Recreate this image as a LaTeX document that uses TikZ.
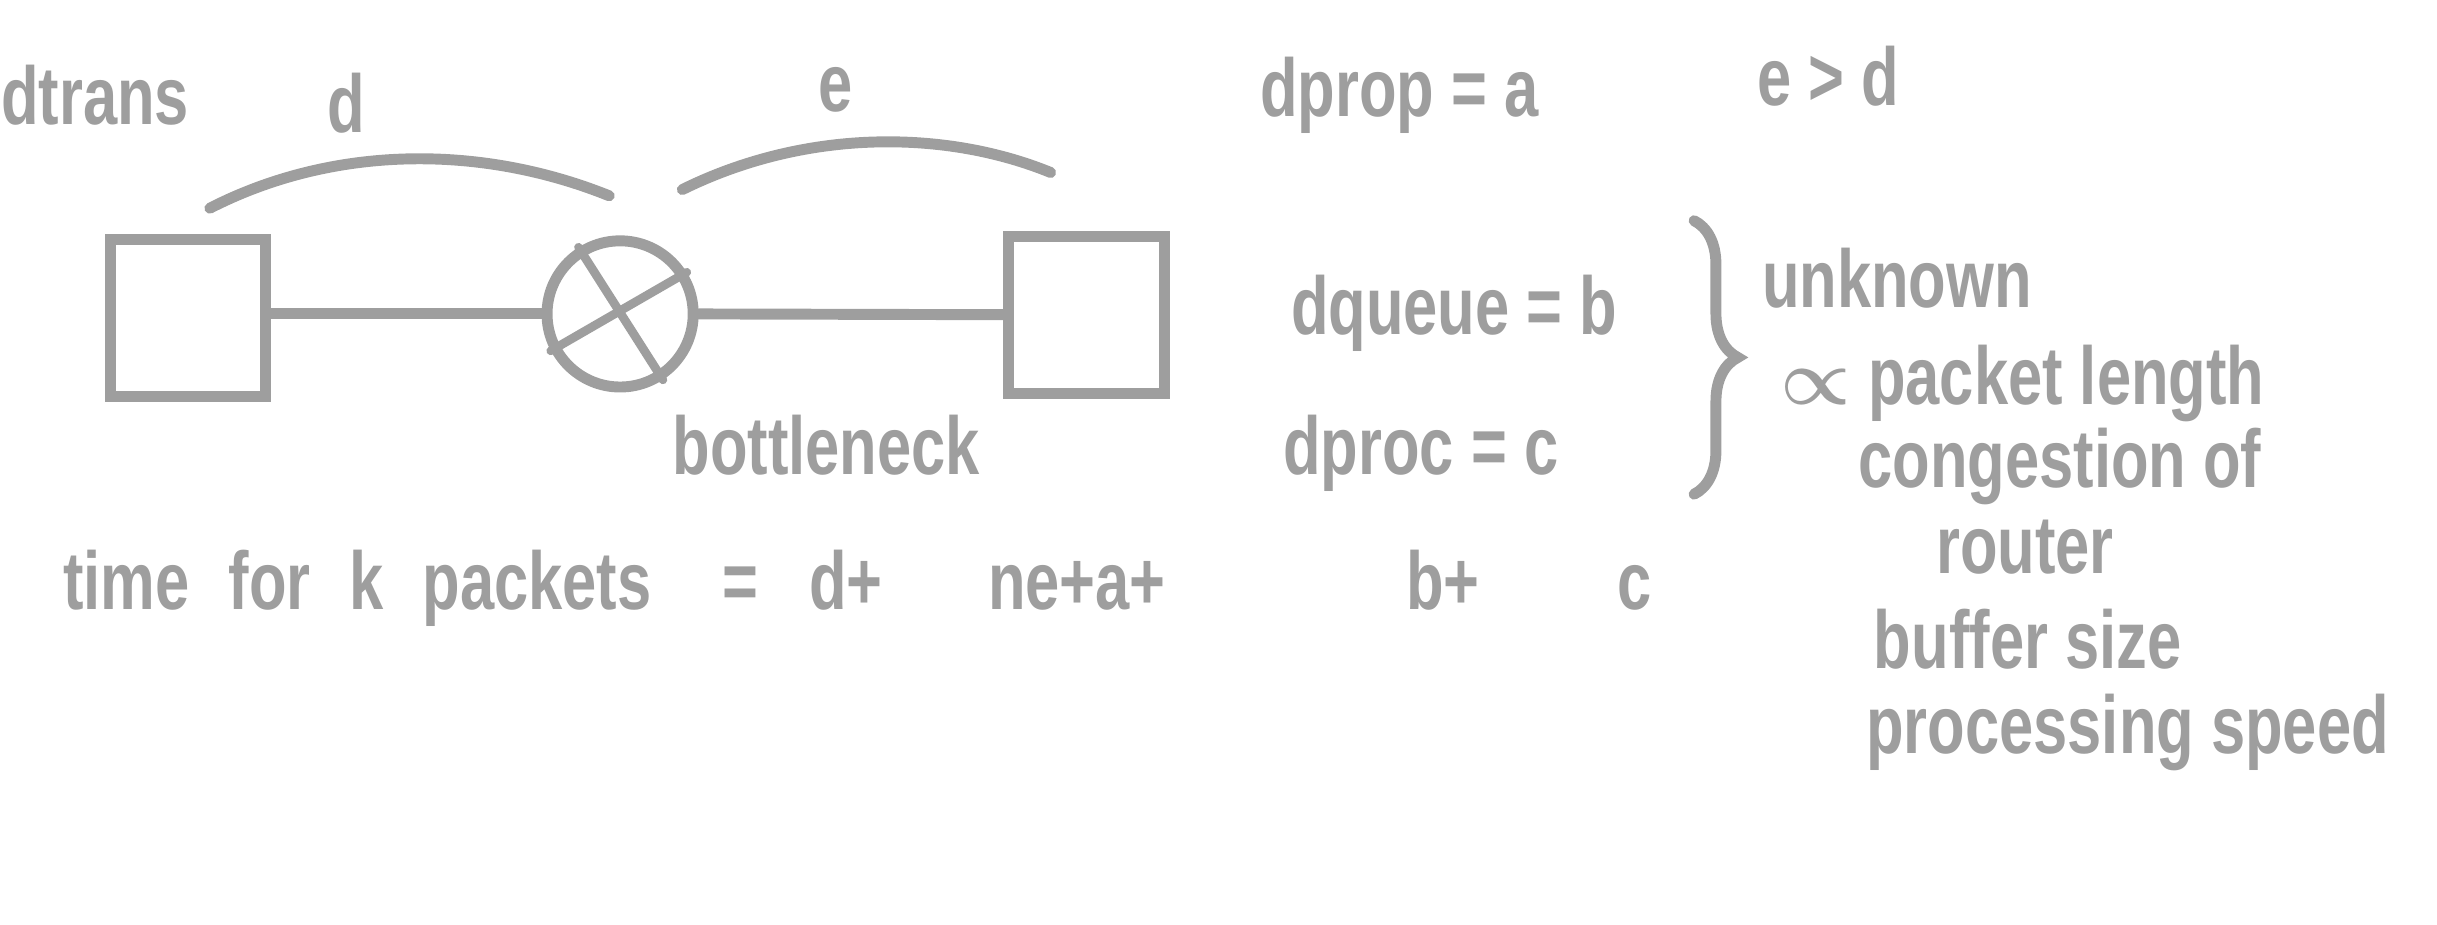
\documentclass[tikz,border=0pt]{standalone}
\usepackage{fontspec}
\setmainfont[FakeStretch=0.75]{Liberation Sans}
\usetikzlibrary{decorations.pathreplacing}
\definecolor{pen}{HTML}{9E9E9E}

\begin{document}
\begin{tikzpicture}[%
      x=0.01cm, y=-0.01cm,
      host/.style={%
        draw          = pen,
        line width    = 2pt,
        minimum width = 1cm,
        minimum height= 1.01cm,
        inner sep     = 0pt,
      },
      router/.style={%
        circle,
        draw          = pen,
        line width    = 2pt,
        minimum size  = 0.94cm,
        inner sep     = 0pt,
      },
      link/.style={draw=pen, line width=2pt, line cap=round},
      hand/.style={%
        text          = pen,
        font          = \fontsize{15}{18}\selectfont\bfseries\boldmath,
        anchor        = base west,
        inner sep     = 0pt,
      }
      ]

      \useasboundingbox (0,0) rectangle (1568,595);

      \node[host] (Src) at (121,204.5) {};
      \node[host] (Dst) at (699,202.5) {};
      \node[router] (Rtr) at (399,202) {};

      \draw[link] (Rtr.west -| Src.east) -- (Rtr.west);
      \draw[link] (Rtr.east) -- (Dst.west);
      \draw[link, line width=1.6pt] (Rtr.122) -- (Rtr.-57);
      \draw[link, line width=1.6pt] (Rtr.208) -- (Rtr.32);

      % spans over the two links
      \coordinate (d-start) at (135,134);
      \coordinate (d-end) at (392,126);
      \coordinate (e-start) at (439,122);
      \coordinate (e-end) at (676,111);
      \draw[link] (d-start) .. controls (215,93) and (310,93) .. (d-end);
      \draw[link] (e-start) .. controls (520,82) and (610,84) .. (e-end);

      \node[hand] (Trans) at (0,80) {dtrans};
      \node[hand] (Lbl-d) at (210,85) {d};
      \node[hand] (Lbl-e) at (526,72) {e};
      \node[hand] (Bneck) at (432,305) {bottleneck};

      \node[hand] (Prop) at (810,75) {dprop = a};
      \node[hand] (Cmp) at (1130,68) {e > d};
      \node[hand] (Queue) at (830,215) {dqueue = b};
      \node[hand] (Proc) at (825,305) {dproc = c};

      \coordinate (br-top) at (1090,142);
      \coordinate (br-bot) at (1090,318);
      \draw[link, decorate, decoration={brace, amplitude=8pt}] (br-top) -- (br-bot);

      \node[hand] (Unk) at (1133,198) {unknown};
      \node[hand] (Len) at (1145,260) {$\propto$ packet length};
      \node[hand] (Cong) at (1195,314) {congestion of};
      \node[hand] (Rout) at (1245,369) {router};
      \node[hand] (Buf) at (1205,430) {buffer size};
      \node[hand] (Spd) at (1200,485) {processing speed};

      \node[hand] (Eq-lhs) at (40,392) {time\hspace{4pt} for\hspace{4pt} k\hspace{4pt} packets};
      \node[hand] (Eq-eq) at (464,392) {=};
      \node[hand] (Eq-d) at (520,392) {d+};
      \node[hand] (Eq-ne) at (635,392) {ne+a+};
      \node[hand] (Eq-b) at (904,392) {b+};
      \node[hand] (Eq-c) at (1040,392) {c};

    \end{tikzpicture}
\end{document}
